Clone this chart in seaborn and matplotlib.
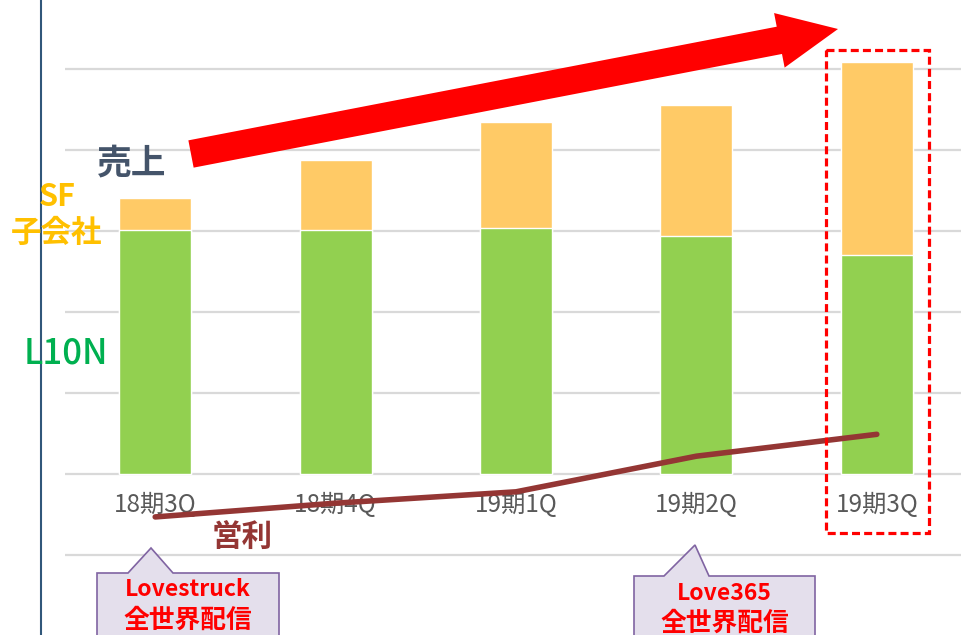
import numpy as np
import seaborn as sns
import matplotlib.pyplot as plt
from matplotlib.transforms import Affine2D
from matplotlib.patches import FancyArrowPatch, Polygon, Rectangle
from matplotlib.lines import Line2D

# data (in gridline units)
quarters = ['18期3Q', '18期4Q', '19期1Q', '19期2Q', '19期3Q']
l10n = [3.01, 3.01, 3.04, 2.94, 2.70]
sf_sub = [0.40, 0.87, 1.31, 1.62, 2.39]
profit = [-0.53, -0.36, -0.22, 0.22, 0.49]

sns.set_theme(style='white')
plt.rcParams['font.family'] = ['Noto Sans CJK JP', 'DejaVu Sans']

W, H = 961, 635
fig = plt.figure(figsize=(W / 100, H / 100), dpi=100)
ax = fig.add_axes([65 / W, 0, (967 - 65) / W, 1])

# pixel coords from top-left, for the decorations
px = Affine2D().scale(1 / W, -1 / H).translate(0, 1) + fig.transFigure

total = [a + b for a, b in zip(l10n, sf_sub)]
sns.barplot(x=quarters, y=total, color='#FFCA66', width=0.4, saturation=1, ax=ax, zorder=2)
sns.barplot(x=quarters, y=l10n, color='#92D050', width=0.4, saturation=1, ax=ax, zorder=3)
sns.lineplot(x=quarters, y=profit, color='#943634', lw=4, ax=ax, zorder=4,
             solid_capstyle='round')

ax.set_xlim(-0.5, 4.5)
ax.set_ylim((474 - 635) / 81, 474 / 81)
ax.set_yticks(range(-1, 6))
ax.yaxis.grid(True, color='#D9D9D9', lw=1.6)
ax.set_axisbelow(True)
ax.set_xlabel('')
ax.tick_params(axis='y', left=False, labelleft=False)
# category labels sit just under the zero line
ax.spines['bottom'].set_position(('data', 0))
ax.tick_params(axis='x', length=0, pad=13, labelsize=17.5, labelcolor='#595959')
for s in ax.spines.values():
    s.set_visible(False)

# left vertical rule
fig.add_artist(Line2D([41, 41], [0, H], transform=px, color='#31577A', lw=1.5))

# big red arrow
arrow = FancyArrowPatch((191, 154), (838, 29), transform=px,
                        arrowstyle='simple,head_length=43,head_width=40,tail_width=20',
                        color='#FF0000', lw=0, shrinkA=0, shrinkB=0)
fig.add_artist(arrow)

# dashed highlight box
fig.add_artist(Rectangle((826, 50), 103, 483, transform=px, fill=False,
                         edgecolor='#FF0000', lw=2.3, linestyle=(0, (2.5, 1.3))))

# series labels
fig.text(132, 163, '売上', transform=px, color='#44546A', fontsize=25,
         fontweight='bold', ha='center', va='center')
fig.text(57, 197, 'SF', transform=px, color='#FFC000', fontsize=22,
         fontweight='bold', ha='center', va='center')
fig.text(57, 233, '子会社', transform=px, color='#FFC000', fontsize=22,
         fontweight='bold', ha='center', va='center')
fig.text(66, 353, 'L10N', transform=px, color='#00B050', fontsize=25,
         fontweight='medium', ha='center', va='center')
fig.text(242, 538, '営利', transform=px, color='#943634', fontsize=22,
         fontweight='bold', ha='center', va='center')


# callouts
def callout(x0, x1, top, tip, b0, b1, text):
    pts = [(x0, top), (b0, top), tip, (b1, top), (x1, top), (x1, H + 5), (x0, H + 5)]
    fig.add_artist(Polygon(pts, closed=True, transform=px, facecolor='#E4DFEC',
                           edgecolor='#8064A2', lw=1.2))
    cx = (x0 + x1) / 2
    fig.text(cx, top + 17, text[0], transform=px, color='#FF0000', fontsize=16.5,
             fontweight='bold', ha='center', va='center')
    fig.text(cx, top + 47, text[1], transform=px, color='#FF0000', fontsize=18.5,
             fontweight='bold', ha='center', va='center')


callout(97, 279, 573, (151, 548), 128, 173, ('Lovestruck', '全世界配信'))
callout(634, 815, 576, (695, 545), 664, 709, ('Love365', '全世界配信'))

fig.savefig('out.png', dpi=100)
